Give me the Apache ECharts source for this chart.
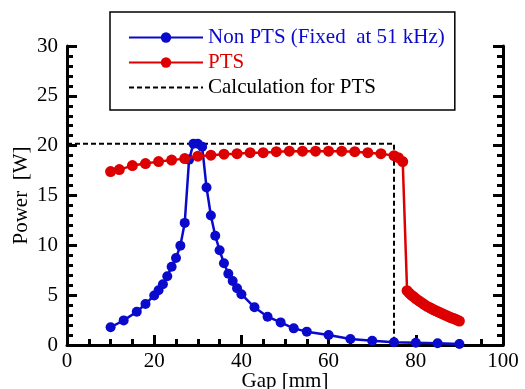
<!DOCTYPE html>
<html>
<head>
<meta charset="utf-8">
<script src="https://cdn.jsdelivr.net/npm/echarts@6/dist/echarts.min.js"></script>
<style>html,body{margin:0;padding:0;background:#fff}#c{width:525px;height:389px}</style>
</head>
<body>
<div id="c"></div>
<script>
const nonPtsGap = [10,13,16,18,20,21,22,23,24,25,26,27,28,29,30,31,32,33,34,35,36,37,38,39,40,43,46,49,52,55,60,65,70,75,80,85,90];
const nonPtsPower = [1.78,2.47,3.34,4.11,4.97,5.5,6.1,6.9,7.85,8.73,9.97,12.25,18.6,20.2,20.2,19.9,15.8,13.0,10.97,9.5,8.2,7.15,6.42,5.7,5.1,3.78,2.84,2.27,1.67,1.34,1.0,0.6,0.43,0.27,0.23,0.17,0.1];
const ptsGap = [10,12,15,18,21,24,27,30,33,36,39,42,45,48,51,54,57,60,63,66,69,72,75,76,77,78,78.5,79,79.5,80,80.5,81,81.5,82,82.5,83,83.5,84,84.5,85,85.5,86,86.5,87,87.5,88,88.5,89,89.5,90];
const ptsPower = [17.4,17.6,18.0,18.2,18.4,18.55,18.7,18.95,19.05,19.15,19.2,19.3,19.3,19.4,19.45,19.45,19.45,19.45,19.45,19.4,19.3,19.2,19.0,18.8,18.4,5.45,5.2,5.0,4.85,4.65,4.5,4.35,4.2,4.05,3.9,3.8,3.68,3.55,3.45,3.35,3.25,3.15,3.05,2.95,2.85,2.75,2.68,2.6,2.5,2.4];
const calcGap = [0,75,75];
const calcPower = [20.2,20.2,0];
const seriesNames = ['Non PTS (Fixed  at 51 kHz)','PTS','Calculation for PTS'];
const xTicks = {min:0,max:100,interval:20};
const yTicks = {min:0,max:30,interval:5};

const zip = (a,b)=>a.map((v,i)=>[v,b[i]]);
const blue = '#0a0acc', red = '#dd0000';
const font = 'Liberation Serif';
const fs = 21;
const chart = echarts.init(document.getElementById('c'));
const axisBase = {
  axisLine:{show:true,lineStyle:{color:'#000',width:3}},
  axisTick:{show:true,inside:true,length:10,lineStyle:{color:'#000',width:3}},
  minorTick:{show:true,length:6,lineStyle:{color:'#000',width:3}},
  splitLine:{show:false}
};
chart.setOption({
  animation:false,
  backgroundColor:'#fff',
  grid:{left:67,right:22,top:46,bottom:44,outerBoundsMode:'none',containLabel:false},
  legend:{
    orient:'vertical',left:110,top:12,
    padding:[15,10,12,18],itemGap:4,
    itemWidth:74,itemHeight:13,
    borderColor:'#000',borderWidth:1.5,
    textStyle:{fontFamily:font,fontSize:fs,color:'#000'},
    data:[
      {name:seriesNames[0],textStyle:{color:blue}},
      {name:seriesNames[1],textStyle:{color:red}},
      {name:seriesNames[2],textStyle:{color:'#000'},itemStyle:{opacity:0}}
    ]
  },
  xAxis:[Object.assign({},axisBase,{
    type:'value',min:xTicks.min,max:xTicks.max,interval:xTicks.interval,
    minorTick:Object.assign({},axisBase.minorTick,{splitNumber:4}),
    name:'Gap [mm]',nameLocation:'middle',nameGap:26,nameMoveOverlap:false,
    nameTextStyle:{fontFamily:font,fontSize:fs,color:'#000'},
    axisLabel:{fontFamily:font,fontSize:fs,color:'#000',margin:6}
  })],
  yAxis:[Object.assign({},axisBase,{
    type:'value',min:yTicks.min,max:yTicks.max,interval:yTicks.interval,
    minorTick:Object.assign({},axisBase.minorTick,{splitNumber:5}),
    name:'Power  [W]',nameLocation:'middle',nameGap:35,nameMoveOverlap:false,
    nameTextStyle:{fontFamily:font,fontSize:fs,color:'#000'},
    axisLabel:{fontFamily:font,fontSize:fs,color:'#000',margin:9}
  }),Object.assign({},axisBase,{
    type:'value',position:'right',min:yTicks.min,max:yTicks.max,interval:yTicks.interval,
    minorTick:Object.assign({},axisBase.minorTick,{splitNumber:5}),
    axisLabel:{show:false}
  })],
  series:[
    {name:seriesNames[2],type:'line',data:zip(calcGap,calcPower),symbol:'none',z:1,
     lineStyle:{color:'#000',width:2,type:[5,3]},itemStyle:{color:'#000'}},
    {name:seriesNames[0],type:'line',data:zip(nonPtsGap,nonPtsPower),symbol:'circle',symbolSize:10,z:2,
     lineStyle:{color:blue,width:2.5},itemStyle:{color:blue}},
    {name:seriesNames[1],type:'line',data:zip(ptsGap,ptsPower),symbol:'circle',symbolSize:11,z:3,
     lineStyle:{color:red,width:2.5},itemStyle:{color:red}}
  ]
});
</script>
</body>
</html>
